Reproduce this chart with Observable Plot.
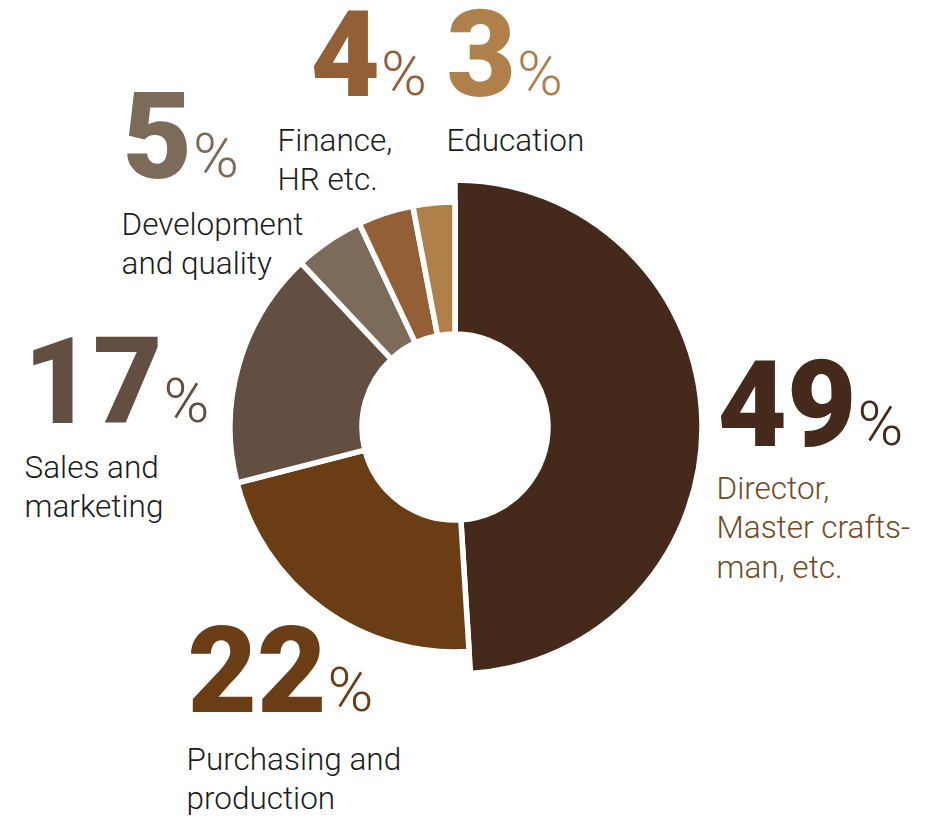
<!DOCTYPE html>
<html><head><meta charset="utf-8">
<script src="https://cdn.jsdelivr.net/npm/d3@7"></script>
<script src="https://cdn.jsdelivr.net/npm/@observablehq/plot@0.6"></script>
<style>
html,body{margin:0;padding:0;background:#fff;}
#chart svg{display:block;}
</style></head>
<body><div id="chart"></div>
<script>
// ---- data ----
const categories = ["Director, Master craftsman, etc.", "Purchasing and production", "Sales and marketing", "Development and quality", "Finance, HR etc.", "Education"];
const shares = [49, 22, 17, 5, 4, 3];
const labelTexts = ["Director,\nMaster crafts-\nman, etc.", "Purchasing and\nproduction", "Sales and\nmarketing", "Development\nand quality", "Finance,\nHR etc.", "Education"];

// ---- styles ----
const palette = ["#45291a", "#6a3d15", "#634f42", "#7c6b59", "#935f37", "#b0804b"];
const labelColors = ["#714a25", "#1c1c1c", "#1c1c1c", "#1c1c1c", "#1c1c1c", "#1c1c1c"];
const FONT = "Roboto, 'Noto Sans', sans-serif";
const NUM_SIZE = 120, PCT_SIZE = 62, LABEL_SIZE = 31.5, LINE_H = 40 / 31.5;

// ---- layout (pixels relative to the donut centre) ----
const W = 939, H = 818, CX = 455, CY = 427;
const R_INNER = 93, R_OUTER = 225, R_OUTER_MAIN = 247, GAP = 5.5;
const numPos = [[262, 18], [-268, 284], [-432, -5], [-333, -250], [-145, -332], [-9, -332]];
const labelPos = [[261, 71], [-269, 342], [-431, 50], [-334, -193], [-178, -277], [-9, -277]];
const PCT_GAP = 1;

const data = categories.map((c, i) => ({category: c, share: shares[i], label: labelTexts[i]}));
const arcs = d3.pie().sort(null).value(d => d.share)(data);

// width of each big number, to place the "%" right after it
const ctx = document.createElement("canvas").getContext("2d");
ctx.font = `900 ${NUM_SIZE}px Roboto`;
const numWidth = data.map(d => ctx.measureText(String(d.share)).width);

function donut(index, scales) {
  const {x, y, color} = scales;
  const cx = x(0), cy = y(0), k = x(1) - x(0);
  const g = d3.create("svg:g").attr("transform", `translate(${cx},${cy})`);
  g.selectAll("path").data(arcs).join("path")
    .attr("d", d => d3.arc()
      .innerRadius(R_INNER * k)
      .outerRadius((d.index === 0 ? R_OUTER_MAIN : R_OUTER) * k)(d))
    .attr("fill", d => color ? color(d.data.category) : palette[d.index])
    .attr("stroke", "white")
    .attr("stroke-width", GAP);
  return g.node();
}

const capOffset = 0.71 * LINE_H * LABEL_SIZE;

const chart = Plot.plot({
  width: W, height: H,
  margin: 0,
  x: {domain: [-CX, W - CX], range: [0, W], axis: null},
  y: {domain: [-CY, H - CY], range: [0, H], axis: null},
  color: {type: "ordinal", domain: categories, range: palette},
  style: {background: "white"},
  marks: [
    donut,
    Plot.text(data, {
      x: (d, i) => numPos[i][0], y: (d, i) => numPos[i][1],
      text: d => String(d.share), fill: "category",
      fontSize: NUM_SIZE, fontWeight: 900, fontFamily: FONT,
      textAnchor: "start", lineAnchor: "bottom"
    }),
    Plot.text(data, {
      x: (d, i) => numPos[i][0] + numWidth[i] + PCT_GAP, y: (d, i) => numPos[i][1] - 1,
      text: () => "%", fill: "category",
      fontSize: PCT_SIZE, fontWeight: 300, fontFamily: FONT,
      textAnchor: "start", lineAnchor: "bottom"
    }),
    Plot.text(data, {
      x: (d, i) => labelPos[i][0], y: (d, i) => labelPos[i][1] - capOffset,
      text: "label", fill: (d, i) => labelColors[i],
      fontSize: LABEL_SIZE, fontWeight: 300, fontFamily: FONT, lineHeight: LINE_H,
      textAnchor: "start", lineAnchor: "top"
    })
  ]
});

document.getElementById("chart").appendChild(chart);
</script>
</body></html>
